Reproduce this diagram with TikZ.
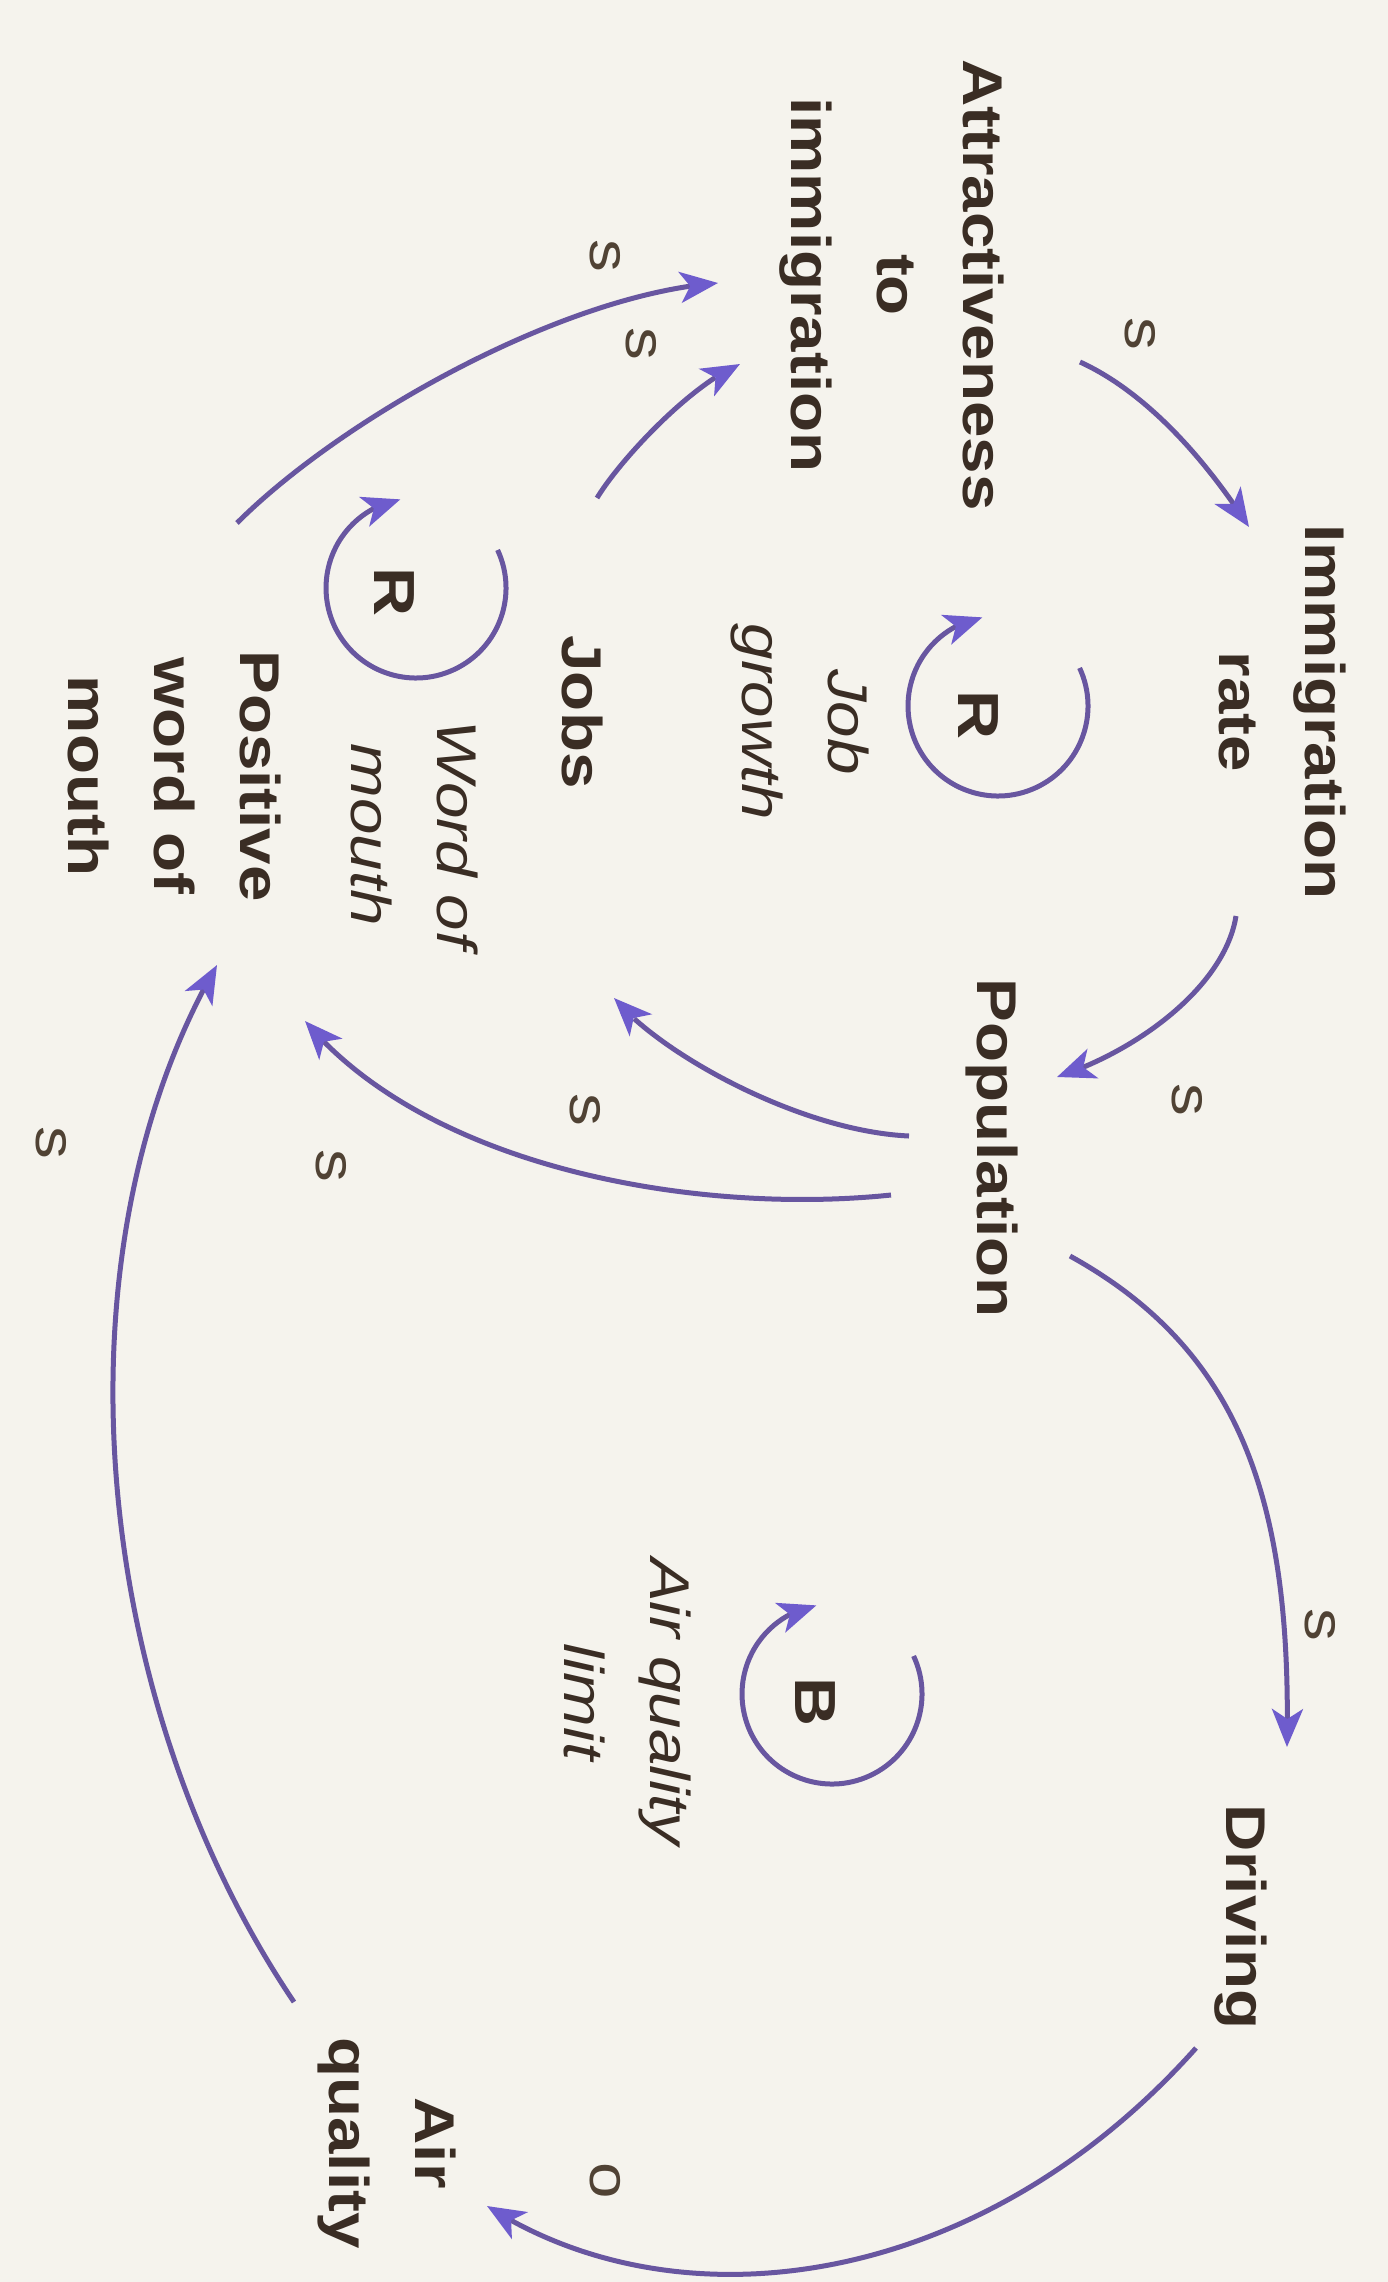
\documentclass[tikz,border=0pt]{standalone}
\usepackage{fontspec}
\setmainfont{Liberation Sans}[FakeStretch=1.17]
\usetikzlibrary{arrows.meta,bending}
\definecolor{bgc}{RGB}{245,243,237}
\definecolor{linec}{RGB}{104,86,160}
\definecolor{headc}{RGB}{110,92,205}
\definecolor{txtc}{RGB}{58,45,36}
\definecolor{lblc}{RGB}{80,66,52}
\begin{document}
\begin{tikzpicture}[x=1pt,y=-1pt,
  var/.style={rotate=-90, font=\bfseries\fontsize{56}{86}\selectfont, text=txtc, align=center, inner sep=0pt},
  looplbl/.style={rotate=-90, font=\itshape\fontsize{56}{86}\selectfont, text=txtc, align=center, inner sep=0pt},
  pol/.style={rotate=-90, font=\fontsize{56}{60}\selectfont, text=lblc, inner sep=0pt},
  loopid/.style={rotate=-90, font=\bfseries\fontsize{58}{60}\selectfont, text=txtc, inner sep=0pt},
  link/.style={draw=linec, line width=5pt, -{Stealth[length=38pt,width=31pt,inset=10pt,color=headc]}},
  loopline/.style={draw=linec, line width=5pt, -{Stealth[length=38pt,width=31pt,inset=10pt,color=headc]}}
]
\path[use as bounding box, fill=bgc] (0,0) rectangle (1388,2282);

% variables
\node[var] (imm)  at (1282,712)  {Immigration\\rate};
\node[var] (attr) at (892,285)   {Attractiveness\\to\\immigration};
\node[var] (pop)  at (992,1148)  {Population};
\node[var] (jobs) at (583,712)   {Jobs};
\node[var] (pwom) at (175,776)   {Positive\\word of\\mouth};
\node[var] (drv)  at (1241,1917) {Driving};
\node[var] (airq) at (387,2143)  {Air\\quality};

% loop names
\node[looplbl] (jg)  at (800,722)  {Job\\growth};
\node[looplbl] (wm)  at (415,835)  {Word of\\mouth};
\node[looplbl] (aql) at (628,1702) {Air quality\\limit};

% loop markers
\coordinate (c1) at (998,706);
\coordinate (c2) at (416,588);
\coordinate (c3) at (832,1694);
\node[loopid] (r1) at (978,715)  {R};
\node[loopid] (r2) at (394,592)  {R};
\node[loopid] (b1) at (815,1702) {B};
\draw[loopline] ([shift={(25:90pt)}]c1) arc[start angle=25, end angle=-260, radius=90pt];
\draw[loopline] ([shift={(25:90pt)}]c2) arc[start angle=25, end angle=-260, radius=90pt];
\draw[loopline] ([shift={(25:90pt)}]c3) arc[start angle=25, end angle=-260, radius=90pt];

% polarity labels
\node[pol] (p1) at (1140,334)  {s};
\node[pol] (p2) at (1187,1100) {s};
\node[pol] (p3) at (1320,1625) {s};
\node[pol] (p4) at (605,2181)  {o};
\node[pol] (p5) at (585,1110)  {s};
\node[pol] (p6) at (331,1166)  {s};
\node[pol] (p7) at (51,1143)   {s};
\node[pol] (p8) at (641,344)   {s};
\node[pol] (p9) at (605,256)   {s};

% connector end points
\coordinate (a1s) at (1080,362);  \coordinate (a1e) at (1249,527);
\coordinate (a2s) at (1236,916);  \coordinate (a2e) at (1057,1077);
\coordinate (a3s) at (1070,1256); \coordinate (a3e) at (1287,1747);
\coordinate (a4s) at (1196,2048); \coordinate (a4e) at (487,2206);
\coordinate (a5s) at (294,2002);  \coordinate (a5e) at (217,965);
\coordinate (a6s) at (909,1136);  \coordinate (a6e) at (614,998);
\coordinate (a7s) at (891,1195);  \coordinate (a7e) at (305,1021);
\coordinate (a8s) at (597,498);   \coordinate (a8e) at (740,364);
\coordinate (a9s) at (237,523);   \coordinate (a9e) at (718,283);

% connectors
\draw[link] (a1s) .. controls (1150,394) and (1209,465) .. (a1e);
\draw[link] (a2s) .. controls (1225,985) and (1140,1050) .. (a2e);
\draw[link] (a3s) .. controls (1240,1350) and (1292,1500) .. (a3e);
\draw[link] (a4s) .. controls (980,2290) and (680,2330) .. (a4e);
\draw[link] (a5s) .. controls (90,1700) and (50,1255) .. (a5e);
\draw[link] (a6s) .. controls (799,1131) and (659,1053) .. (a6e);
\draw[link] (a7s) .. controls (700,1215) and (430,1170) .. (a7e);
\draw[link] (a8s) .. controls (620,460) and (690,385) .. (a8e);
\draw[link] (a9s) .. controls (340,420) and (560,295) .. (a9e);
\end{tikzpicture}
\end{document}
